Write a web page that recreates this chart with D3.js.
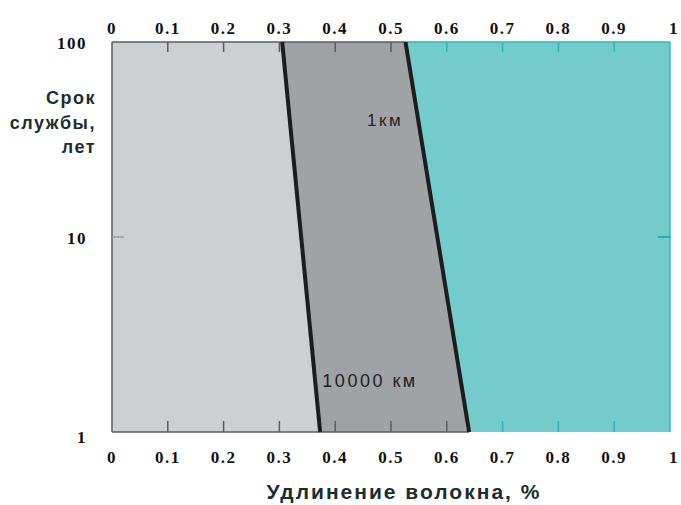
<!DOCTYPE html>
<html>
<head>
<meta charset="utf-8">
<script src="https://cdn.jsdelivr.net/npm/d3@7"></script>
<style>
  body { margin: 0; background: #fff; }
  svg { display: block; }
</style>
</head>
<body>
<svg id="chart" width="681" height="505"></svg>
<script>
// Data
const xTicks = [0, 0.1, 0.2, 0.3, 0.4, 0.5, 0.6, 0.7, 0.8, 0.9, 1];
const xTickLabels = ['0', '0.1', '0.2', '0.3', '0.4', '0.5', '0.6', '0.7', '0.8', '0.9', '1'];
const yTicks = [1, 10, 100];
const yTickLabels = ['1', '10', '100'];
// boundary lines: elongation at 100 years and at 1 year
const line10000km = [[0.305, 100], [0.373, 1]];
const line1km = [[0.526, 100], [0.64, 1]];
const regionColors = ['#cdd0d3', '#a0a3a6', '#73cbcb'];
const yTitleLines = ['Срок', 'службы,', 'лет'];
const xTitle = 'Удлинение волокна, %';

const margin = {top: 42, right: 10, bottom: 73, left: 112};
const width = 681, height = 505;
const plotW = width - margin.left - margin.right;
const plotH = height - margin.top - margin.bottom;

const svg = d3.select('#chart');
const g = svg.append('g').attr('transform', `translate(${margin.left},${margin.top})`);

const x = d3.scaleLinear().domain([0, 1]).range([0, plotW - 1]);
const y = d3.scaleLog().domain([1, 100]).range([plotH, 0]);

const pt = (d) => [x(d[0]), y(d[1])];

// Regions
const regions = [
  [[0, 100], line10000km[0], line10000km[1], [0, 1]],
  [line10000km[0], line1km[0], line1km[1], line10000km[1]],
  [line1km[0], [1, 100], [1, 1], line1km[1]],
];
g.selectAll('.region')
  .data(regions)
  .join('path')
  .attr('class', 'region')
  .attr('d', (d) => d3.line()(d.map(pt)) + 'Z')
  .attr('fill', (d, i) => regionColors[i]);

// Frame edges, coloured per region
const edgeGray = '#5a5c5e';
const edgeTeal = '#2cb8b8';
g.append('line').attr('x1', x(0)).attr('x2', x(line1km[0][0]))
  .attr('y1', 0).attr('y2', 0).attr('stroke', edgeGray).attr('stroke-width', 1.5);
g.append('line').attr('x1', x(line1km[0][0])).attr('x2', x(1))
  .attr('y1', 0).attr('y2', 0).attr('stroke', edgeTeal).attr('stroke-width', 1.5);
g.append('line').attr('x1', x(0)).attr('x2', x(line1km[1][0]))
  .attr('y1', plotH).attr('y2', plotH).attr('stroke', edgeGray).attr('stroke-width', 1.5);
g.append('line').attr('x1', x(0)).attr('x2', x(0))
  .attr('y1', 0).attr('y2', plotH).attr('stroke', edgeGray).attr('stroke-width', 1.5);
g.append('line').attr('x1', x(1)).attr('x2', x(1))
  .attr('y1', 0).attr('y2', plotH).attr('stroke', edgeTeal).attr('stroke-width', 1.5);

// Inward ticks
const tickColor = (v, yv) => {
  const b = line1km[0][0] + (line1km[1][0] - line1km[0][0]) * (1 - Math.log10(yv) / 2);
  return v > b ? edgeTeal : edgeGray;
};
const innerX = xTicks.filter((d) => d > 0 && d < 1);
g.selectAll('.tick-top')
  .data(innerX)
  .join('line')
  .attr('class', 'tick-top')
  .attr('x1', (d) => x(d)).attr('x2', (d) => x(d))
  .attr('y1', 0).attr('y2', 10)
  .attr('stroke', (d) => tickColor(d, 100))
  .attr('stroke-width', 1.5);
g.selectAll('.tick-bottom')
  .data(innerX)
  .join('line')
  .attr('class', 'tick-bottom')
  .attr('x1', (d) => x(d)).attr('x2', (d) => x(d))
  .attr('y1', plotH).attr('y2', plotH - 11)
  .attr('stroke', (d) => tickColor(d, 1))
  .attr('stroke-width', 1.5);
g.append('line').attr('x1', x(0)).attr('x2', x(0) + 12)
  .attr('y1', y(10)).attr('y2', y(10)).attr('stroke', '#9a9c9e').attr('stroke-width', 1.5);
g.append('line').attr('x1', x(1)).attr('x2', x(1) - 12)
  .attr('y1', y(10)).attr('y2', y(10)).attr('stroke', '#1fb0b0').attr('stroke-width', 2);

// Boundary lines
g.selectAll('.boundary')
  .data([line10000km, line1km])
  .join('path')
  .attr('class', 'boundary')
  .attr('d', (d) => d3.line()(d.map(pt)))
  .attr('stroke', '#1c1d1e')
  .attr('stroke-width', 4)
  .attr('fill', 'none');

// Line labels
const sans = 'Liberation Sans, Arial, sans-serif';
g.append('text')
  .attr('x', x(0.457)).attr('y', y(37))
  .attr('font-family', sans)
  .attr('font-size', 17)
  .attr('letter-spacing', 2.5)
  .attr('fill', '#222')
  .text('1км');
g.append('text')
  .attr('x', x(0.377)).attr('y', y(1.7))
  .attr('font-family', sans)
  .attr('font-size', 18)
  .attr('letter-spacing', 2.5)
  .attr('fill', '#222')
  .text('10000 км');

// Tick labels
const tickFont = 'Liberation Serif, Times New Roman, serif';
const tickIdx = xTicks.map((d, i) => i);
['top', 'bottom'].forEach((side) => {
  g.selectAll('.xlabel-' + side)
    .data(tickIdx)
    .join('text')
    .attr('class', 'xlabel-' + side)
    .attr('x', (i) => x(xTicks[i]) + (i === 10 ? 4 : 0))
    .attr('y', side === 'top' ? -8 : plotH + 31)
    .attr('text-anchor', 'middle')
    .attr('font-family', tickFont)
    .attr('font-weight', 'bold')
    .attr('font-size', 17)
    .attr('letter-spacing', 1.5)
    .attr('fill', '#111')
    .text((i) => xTickLabels[i]);
});
g.selectAll('.ylabel')
  .data(yTicks.map((d, i) => i))
  .join('text')
  .attr('class', 'ylabel')
  .attr('x', -25)
  .attr('y', (i) => y(yTicks[i]) + (i === 0 ? 11 : 7))
  .attr('text-anchor', 'end')
  .attr('font-family', tickFont)
  .attr('font-weight', 'bold')
  .attr('font-size', 17)
  .attr('letter-spacing', 1.5)
  .attr('fill', '#111')
  .text((i) => yTickLabels[i]);

// Axis titles
svg.append('g')
  .selectAll('text')
  .data(yTitleLines)
  .join('text')
  .attr('x', 96)
  .attr('y', (d, i) => 104 + i * 24.5)
  .attr('text-anchor', 'end')
  .attr('font-family', sans)
  .attr('font-weight', 'bold')
  .attr('font-size', 18)
  .attr('letter-spacing', 1.5)
  .attr('fill', '#1a2e2e')
  .text((d) => d);
svg.append('text')
  .attr('x', 404).attr('y', 499)
  .attr('text-anchor', 'middle')
  .attr('font-family', sans)
  .attr('font-weight', 'bold')
  .attr('font-size', 21)
  .attr('letter-spacing', 2)
  .attr('fill', '#1a2e2e')
  .text(xTitle);
</script>
</body>
</html>
